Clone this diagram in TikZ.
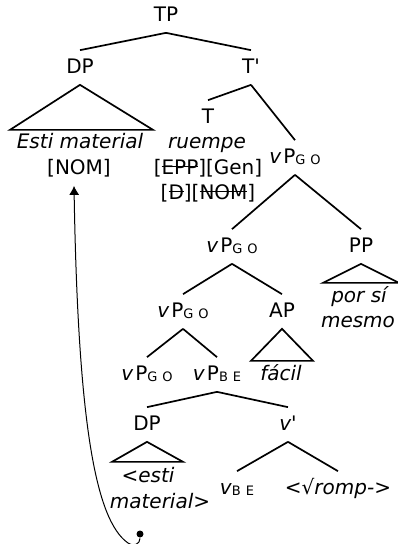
\documentclass[tikz,border=0pt]{standalone}
\usepackage{fontspec}
\setmainfont{DejaVu Sans}
\usetikzlibrary{arrows.meta}

\newsavebox\strkbox
\newcommand\strk[1]{\sbox\strkbox{#1}\rlap{\rule[7pt]{\wd\strkbox}{1.3pt}}\usebox\strkbox}
\newcommand\subsc[1]{\raisebox{-1pt}{\fontsize{13}{13}\selectfont #1}}
\newcommand\vPhr[1]{\textit{v}\hspace{2pt}P\subsc{#1}}

\begin{document}
\begin{tikzpicture}[x=1pt,y=-1pt,line width=1.7pt,
  lbl/.style={anchor=base,inner sep=7pt,text height=15pt,text depth=4pt,
    font=\fontsize{20}{25}\selectfont},
  leaf/.style={lbl,font=\fontsize{20}{25}\selectfont\itshape}]
  \useasboundingbox (0,0) rectangle (397,544);
  % Top of the tree
  \node[lbl] (TP) at (166,21) {TP};
  \node[lbl] (DPa) at (80,73) {DP};
  \node[lbl] (Tbar) at (251,73) {T\textquotesingle};
  \draw (TP.south) -- (DPa.north);
  \draw (TP.south) -- (Tbar.north);
  % Subject DP
  \draw (DPa.south) -- ++(-70,45) -- ++(143,0) -- cycle;
  \node[leaf] (subj) at (80,148) {Esti material};
  \node[lbl] (nom) at (79,174) {[NOM]};
  % T head and its features
  \node[lbl] (T) at (208,123) {T};
  \node[leaf] (verb) at (207,148) {ruempe};
  \node[lbl] (feata) at (208,174) {[\strk{EPP}][Gen]};
  \node[lbl] (featb) at (208,199) {[\strk{D}][\strk{NOM}]};
  \node[lbl] (vPa) at (295,163) {\vPhr{G\hspace{5pt}O}};
  \draw (Tbar.south) -- (T.north);
  \draw (Tbar.south) -- (vPa.north);
  % Adjunct PP
  \node[lbl] (vPb) at (232,252) {\vPhr{G\hspace{5pt}O}};
  \node[lbl] (PP) at (361,252) {PP};
  \draw (vPa.south) -- (vPb.north);
  \draw (vPa.south) -- (PP.north);
  \draw (PP.south) -- ++(-38,19) -- ++(76,0) -- cycle;
  \node[leaf] (ppa) at (359,302) {por sí};
  \node[leaf] (ppb) at (358,327) {mesmo};
  % Adjunct AP
  \node[lbl] (vPc) at (183,317) {\vPhr{G\hspace{5pt}O}};
  \node[lbl] (AP) at (282,317) {AP};
  \draw (vPb.south) -- (vPc.north);
  \draw (vPb.south) -- (AP.north);
  \draw (AP.south) -- ++(-31,32) -- ++(62,0) -- cycle;
  \node[leaf] (adj) at (281,380) {fácil};
  % Lower vPs
  \node[lbl] (vPd) at (147,380) {\vPhr{G\hspace{5pt}O}};
  \node[lbl] (vPbe) at (217,380) {\vPhr{B\hspace{5pt}E}};
  \draw (vPc.south) -- (vPd.north);
  \draw (vPc.south) -- (vPbe.north);
  \node[lbl] (DPb) at (147,430) {DP};
  \node[lbl] (vbar) at (288,430) {\textit{v\textquotesingle}};
  \draw (vPbe.south) -- (DPb.north);
  \draw (vPbe.south) -- (vbar.north);
  \draw (DPb.south) -- ++(-35,20) -- ++(71,0) -- cycle;
  \node[leaf] (copa) at (148,482) {<esti};
  \node[leaf] (copb) at (160,508) {material>};
  \node[lbl] (vbe) at (237,494) {\textit{v}\subsc{B\hspace{5pt}E}};
  \node[leaf] (root) at (338,494) {<√romp->};
  \draw (vbar.south) -- (vbe.north);
  \draw (vbar.south) -- (root.north);
  % Movement arrow
  \node[circle,fill,inner sep=0pt,minimum size=7pt] (trace) at (140,534) {};
  \draw[line width=1pt,-{Latex[length=9pt,width=10pt]}] (trace)
    .. controls (140,544) and (134,547) .. (128,543)
    .. controls (95,520) and (78,420) .. ([xshift=-5pt]nom.south);
\end{tikzpicture}
\end{document}
